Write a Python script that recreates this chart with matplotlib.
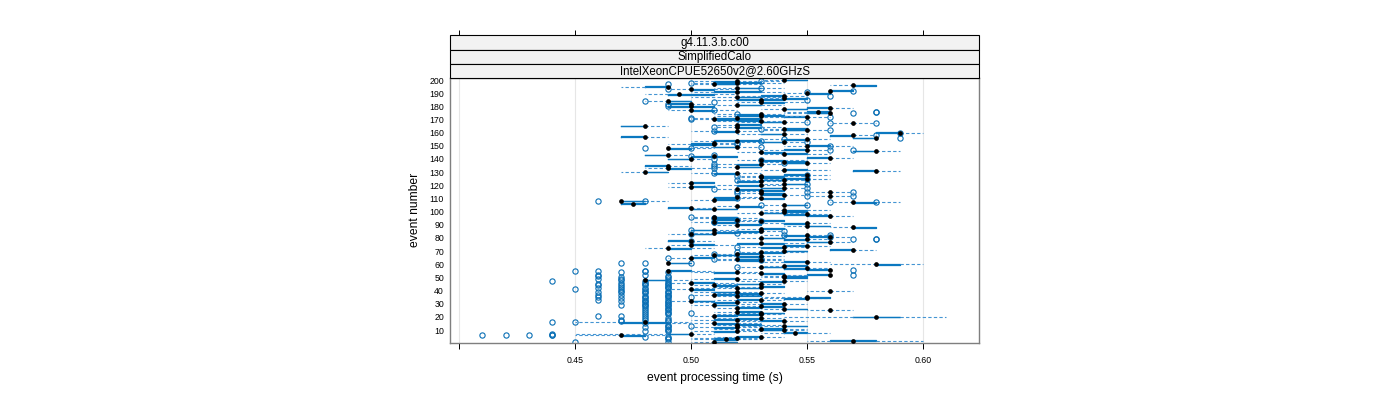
import numpy as np
import matplotlib
matplotlib.use("Agg")
import matplotlib.pyplot as plt
from matplotlib.patches import Rectangle

plt.rcParams['font.family'] = ['Liberation Sans', 'DejaVu Sans']

# event processing time per event, in ms (10 ms bins)
events = list(range(1, 201))

med_ms = [
    510, 570, 515, 520, 530, 470, 500, 545, 520, 540, 530, 520, 540, 520, 510, 480, 540, 520, 530, 580,
    510, 530, 530, 520, 560, 540, 520, 530, 510, 540, 520, 500, 530, 550, 550, 520, 510, 530, 520, 560,
    500, 520, 530, 510, 530, 500, 540, 480, 520, 540, 540, 560, 530, 520, 490, 560, 550, 530, 540, 580,
    490, 550, 530, 520, 500, 530, 510, 520, 530, 540, 570, 490, 540, 550, 500, 530, 560, 500, 550, 530,
    560, 550, 500, 510, 530, 510, 530, 570, 550, 520, 550, 510, 530, 520, 510, 510, 560, 550, 530, 540,
    540, 510, 500, 520, 540, 475, 570, 470, 510, 530, 520, 560, 540, 530, 560, 530, 520, 540, 500, 530,
    540, 500, 530, 540, 550, 530, 530, 550, 520, 480, 580, 540, 490, 520, 490, 530, 550, 540, 530, 500,
    560, 510, 490, 540, 530, 580, 550, 490, 520, 550, 510, 510, 540, 520, 550, 580, 480, 570, 540, 590,
    520, 550, 540, 520, 480, 520, 570, 540, 530, 510, 520, 550, 530, 530, 560, 555, 500, 540, 560, 500,
    520, 500, 530, 490, 530, 540, 520, 540, 495, 550, 520, 560, 500, 520, 490, 570, 510, 520, 520, 540,
]
q1_ms = [
    510, 560, 510, 510, 520, 470, 490, 540, 510, 530, 530, 510, 540, 520, 510, 470, 530, 510, 520, 570,
    510, 520, 530, 520, 560, 540, 520, 530, 510, 530, 510, 500, 520, 540, 550, 520, 510, 520, 510, 560,
    500, 520, 530, 510, 520, 500, 530, 480, 510, 540, 540, 550, 530, 510, 490, 550, 540, 530, 540, 580,
    490, 540, 520, 520, 500, 520, 510, 520, 530, 540, 560, 490, 530, 540, 500, 520, 550, 490, 540, 530,
    550, 540, 500, 510, 520, 500, 530, 570, 550, 520, 540, 510, 530, 510, 510, 510, 550, 540, 530, 540,
    540, 500, 490, 520, 540, 470, 570, 470, 510, 530, 510, 560, 530, 530, 560, 530, 520, 530, 500, 520,
    540, 500, 520, 530, 540, 530, 530, 540, 510, 480, 570, 540, 490, 520, 480, 520, 540, 540, 530, 490,
    550, 500, 480, 540, 530, 570, 540, 490, 510, 550, 500, 500, 530, 510, 540, 570, 470, 560, 530, 580,
    510, 540, 540, 520, 470, 520, 570, 530, 520, 510, 510, 540, 520, 520, 550, 550, 500, 540, 550, 490,
    520, 490, 530, 490, 520, 540, 520, 530, 490, 550, 510, 560, 500, 520, 480, 570, 510, 510, 510, 540,
]
q3_ms = [
    520, 580, 520, 520, 530, 480, 500, 550, 520, 540, 540, 520, 550, 530, 520, 490, 540, 520, 530, 590,
    520, 530, 540, 530, 560, 550, 530, 540, 520, 540, 520, 510, 530, 550, 560, 530, 520, 530, 520, 560,
    510, 530, 540, 520, 530, 510, 540, 490, 520, 550, 550, 560, 540, 520, 500, 560, 550, 540, 550, 590,
    500, 550, 530, 530, 510, 530, 520, 530, 540, 550, 570, 500, 540, 550, 510, 540, 560, 500, 550, 540,
    560, 550, 510, 520, 530, 510, 540, 580, 560, 530, 550, 520, 540, 520, 520, 520, 560, 550, 540, 550,
    550, 520, 500, 530, 550, 480, 580, 480, 520, 540, 520, 560, 540, 540, 560, 540, 530, 540, 510, 530,
    550, 510, 530, 540, 550, 540, 540, 550, 520, 490, 580, 550, 500, 530, 490, 530, 550, 550, 540, 500,
    560, 520, 490, 550, 540, 580, 550, 500, 520, 560, 510, 510, 540, 530, 550, 580, 480, 570, 540, 590,
    520, 550, 550, 530, 480, 530, 570, 540, 530, 520, 530, 550, 540, 530, 560, 560, 510, 550, 560, 510,
    530, 500, 540, 500, 540, 550, 530, 540, 510, 560, 530, 570, 510, 530, 490, 580, 520, 530, 520, 550,
]
wlo_ms = [
    500, 550, 500, 500, 510, 450, 450, 530, 500, 520, 510, 500, 520, 510, 490, 450, 520, 500, 510, 540,
    500, 510, 520, 510, 550, 530, 510, 520, 500, 520, 500, 490, 510, 530, 530, 510, 500, 510, 500, 550,
    490, 500, 510, 500, 510, 490, 520, 480, 500, 530, 530, 540, 520, 500, 490, 550, 540, 520, 530, 560,
    490, 530, 510, 510, 490, 510, 500, 510, 520, 530, 560, 480, 520, 540, 490, 520, 550, 490, 540, 520,
    550, 530, 490, 500, 510, 500, 520, 560, 540, 510, 530, 500, 520, 510, 500, 500, 550, 540, 520, 530,
    530, 500, 490, 510, 530, 470, 560, 470, 500, 520, 510, 550, 530, 520, 550, 520, 510, 530, 490, 510,
    530, 490, 520, 520, 530, 520, 520, 540, 500, 470, 570, 530, 480, 510, 480, 510, 540, 530, 520, 490,
    550, 500, 480, 530, 520, 570, 530, 490, 500, 540, 490, 500, 520, 500, 530, 570, 470, 560, 520, 580,
    500, 530, 530, 510, 470, 510, 560, 520, 510, 500, 500, 530, 510, 510, 540, 540, 490, 530, 550, 490,
    510, 490, 520, 480, 510, 530, 500, 520, 480, 540, 500, 560, 490, 510, 470, 560, 500, 500, 500, 530,
]
whi_ms = [
    520, 600, 530, 530, 540, 490, 510, 560, 530, 550, 550, 530, 550, 540, 530, 500, 550, 530, 540, 610,
    520, 540, 540, 530, 570, 550, 530, 540, 520, 550, 530, 510, 540, 560, 560, 530, 530, 540, 530, 570,
    510, 530, 540, 520, 540, 520, 550, 500, 530, 550, 550, 560, 540, 530, 510, 560, 560, 540, 550, 600,
    500, 560, 540, 540, 510, 540, 520, 530, 550, 550, 580, 510, 550, 560, 520, 550, 570, 510, 560, 540,
    570, 560, 510, 530, 540, 520, 540, 580, 560, 530, 560, 520, 540, 530, 530, 520, 570, 560, 550, 550,
    560, 520, 510, 530, 550, 480, 590, 490, 520, 540, 530, 570, 550, 540, 570, 540, 530, 550, 510, 540,
    550, 510, 540, 550, 560, 540, 550, 560, 530, 490, 590, 560, 510, 530, 500, 540, 560, 550, 550, 510,
    570, 520, 500, 560, 540, 590, 560, 510, 530, 570, 520, 520, 550, 530, 560, 580, 490, 580, 550, 600,
    530, 560, 550, 540, 490, 530, 580, 550, 540, 530, 530, 560, 550, 540, 560, 560, 520, 550, 570, 510,
    540, 510, 550, 500, 540, 550, 540, 550, 520, 560, 540, 570, 520, 540, 490, 580, 530, 540, 540, 550,
]
fliers_ms = [
    [450, 490], [], [490], [490], [480, 490], [410, 420, 430, 440, 440], [440], [], [480, 490], [490],
    [490], [480, 490], [490, 500], [490], [480], [440, 450], [470, 490], [470, 480, 490], [480, 490], [],
    [460, 470, 480], [480, 490], [490, 500], [480, 490], [480, 490], [490], [480, 490], [480, 490], [470, 480, 490], [480, 490],
    [480, 490, 490], [470, 480], [460, 480, 490], [470, 480, 490], [460, 480, 500], [480, 490, 490], [460, 470, 490], [480, 490], [460, 470, 480, 490], [470, 480, 490],
    [450, 470, 480], [460, 480, 490], [470, 490, 490], [460, 470, 480, 490], [460, 480, 490], [470, 480, 490], [440, 480, 490], [470], [460, 470, 490], [470, 490],
    [460, 490], [460, 480, 570], [], [470, 490], [450, 460, 480, 480], [570], [], [520], [], [],
    [470, 480, 500], [], [530], [510, 530], [490], [], [], [510], [520], [],
    [], [], [520], [], [], [], [], [500], [570, 580, 580], [],
    [560], [540, 560], [500], [520], [540], [500], [], [], [], [],
    [], [510, 510], [530], [520], [510], [500], [], [], [], [],
    [], [], [], [], [530, 550], [], [560, 580], [460, 480], [], [520],
    [], [550, 570], [], [520], [550, 570], [520], [510], [550], [], [],
    [550], [], [], [520], [550], [], [520], [550], [510], [],
    [], [], [510], [], [510], [510], [540], [], [530], [510],
    [], [500], [510], [], [], [], [560, 570], [480, 500], [530], [560],
    [520], [520], [550], [530], [540], [590], [], [580], [], [590],
    [510], [560], [530], [510], [], [], [560, 580], [550], [], [500],
    [500], [560], [], [520], [570], [580, 580], [510], [], [], [490],
    [], [490], [510], [480], [550], [], [], [560], [], [],
    [550], [570], [490], [530], [], [], [490], [500], [530], [],
]

strip_labels = ["g4.11.3.b.c00", "SimplifiedCalo", "IntelXeonCPUE52650v2@2.60GHzS"]
x_ticks = [0.40, 0.45, 0.50, 0.55, 0.60]
x_tick_labels = ["", "0.45", "0.50", "0.55", "0.60"]
y_ticks = list(range(10, 201, 10))

BOX_BLUE = '#0b78c0'
WHISK_BLUE = '#4595d3'
OUT_BLUE = '#0a6fb5'

W, H = 1400, 400


def fbox(x0, y0, x1, y1):
    # pixel box with top-left origin -> figure fraction [l, b, w, h]
    return [x0 / W, 1 - y1 / H, (x1 - x0) / W, (y1 - y0) / H]


fig = plt.figure(figsize=(14, 4), dpi=100)

# top tick marks sit above the strips
ax_top = fig.add_axes(fbox(450, 35.5, 979.3, 342.7))
ax_top.set_xlim(0.396, 0.6244)
ax_top.set_xticks(x_ticks)
ax_top.tick_params(axis='x', top=True, bottom=False, labeltop=False, labelbottom=False,
                   direction='out', length=4.3, width=0.7)
ax_top.set_yticks([])
ax_top.patch.set_visible(False)
for s in ax_top.spines.values():
    s.set_visible(False)

ax = fig.add_axes(fbox(450, 78.3, 979.3, 342.7))

stats = []
for i in range(len(events)):
    stats.append(dict(med=med_ms[i] / 1000, q1=q1_ms[i] / 1000, q3=q3_ms[i] / 1000,
                      whislo=wlo_ms[i] / 1000, whishi=whi_ms[i] / 1000,
                      fliers=np.array(fliers_ms[i], dtype=float) / 1000))

ax.bxp(stats, positions=events, widths=0.55, orientation='horizontal',
       showcaps=False, manage_ticks=False,
       boxprops=dict(color=BOX_BLUE, linewidth=0.9),
       whiskerprops=dict(color=WHISK_BLUE, linewidth=0.8, linestyle=(0, (3, 2))),
       medianprops=dict(linewidth=0),
       flierprops=dict(marker='o', markerfacecolor='none', markeredgecolor=OUT_BLUE,
                       markersize=3.8, markeredgewidth=0.8))
ax.plot(np.array(med_ms) / 1000, events, 'o', color='black', markersize=3.4,
        markeredgewidth=0, zorder=4)

ax.set_xlim(0.396, 0.6244)
ax.set_ylim(0.4, 201.3)
ax.set_xticks(x_ticks)
ax.set_xticklabels(x_tick_labels)
ax.set_yticks(y_ticks)
ax.set_yticklabels([str(v) for v in y_ticks])
ax.grid(axis='x', color='#e6e6e6', linewidth=0.8)
ax.set_axisbelow(True)
ax.tick_params(axis='x', direction='out', length=4.3, width=0.7, labelsize=6.3, pad=5)
ax.tick_params(axis='y', length=0, labelsize=6.3, pad=4.3)
for s in ax.spines.values():
    s.set_color('#7f7f7f')
    s.set_linewidth(1.0)

# strips
strip_top = 35.5
strip_h = 14.27
for i, lab in enumerate(strip_labels):
    y0 = strip_top + i * strip_h
    l, b, w, h = fbox(450, y0, 979.3, y0 + strip_h)
    fig.add_artist(Rectangle((l, b), w, h, transform=fig.transFigure,
                             facecolor='#f2f2f2', edgecolor='black', linewidth=0.8))
    fig.text(l + w / 2, b + h / 2, lab, ha='center', va='center', fontsize=8.3)

fig.text(714.6 / W, 1 - 378 / H, 'event processing time (s)', ha='center', va='center', fontsize=8.7)
fig.text(415 / W, 1 - 210 / H, 'event number', ha='center', va='center', rotation=90, fontsize=8.7)

fig.savefig('out.png', dpi=100)
